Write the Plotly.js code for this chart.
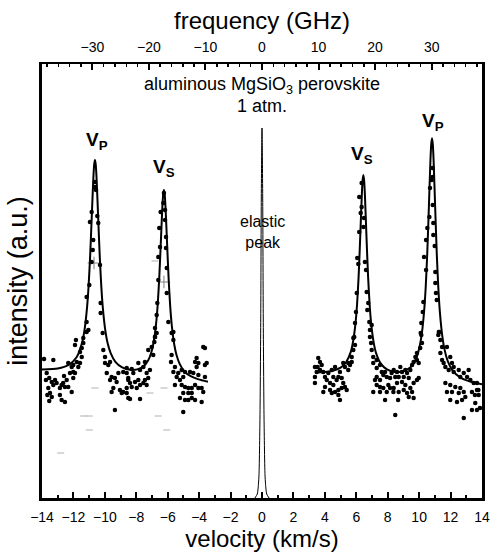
<!DOCTYPE html>
<html>
<head>
<meta charset="utf-8">
<script src="https://cdn.plot.ly/plotly-3.0.1.min.js"></script>
<style>html,body{margin:0;padding:0;background:#fff;}#chart{width:491px;height:552px;}</style>
</head>
<body>
<div id="chart"></div>
<script>
// ---- measured points [velocity km/s, intensity a.u.] ----
const dotsLeftOuter = [[-13.87,139],[-13.28,138],[-13.70,125],[-13.54,120],[-13.75,118],[-13.38,116],[-13.17,118],[-13.07,115],[-13.28,113],[-13.60,110],[-13.49,105],[-13.66,103],[-13.38,101],[-13.54,97],[-12.86,110],[-12.75,113],[-12.65,115],[-12.54,111],[-12.86,103],[-12.75,98],[-12.54,96],[-12.11,106],[-12.33,111],[-12.43,118],[-12.60,122],[-12.22,125],[-12.01,126],[-12.11,131],[-12.33,135],[-12.01,133],[-11.79,136],[-11.69,131],[-11.58,135],[-11.90,125],[-12.01,120],[-11.47,141],[-11.58,146],[-11.90,153],[-11.84,158],[-11.37,155],[-11.47,150],[-11.16,166]];
const dotsLeftVp = [[-10.63,316],[-10.56,308],[-10.84,286],[-10.48,282],[-10.95,276],[-10.42,275],[-10.74,258],[-10.77,248],[-10.84,236],[-10.31,233],[-10.99,213],[-11.16,201],[-10.27,195],[-10.27,185],[-11.16,176],[-11.05,168],[-10.14,165],[-11.37,160],[-10.63,311]];
const dotsLeftMiddle = [[-9.99,135],[-9.78,133],[-9.67,136],[-9.88,125],[-9.57,121],[-9.36,120],[-9.67,118],[-9.25,116],[-9.46,110],[-9.57,106],[-9.04,108],[-8.83,106],[-8.93,105],[-8.61,105],[-8.51,100],[-9.36,88],[-9.14,125],[-8.83,126],[-8.61,125],[-8.51,120],[-9.99,141],[-10.10,148],[-8.61,130],[-8.29,129],[-8.19,125],[-7.87,135],[-7.76,128],[-7.55,131],[-7.45,136],[-7.24,148],[-7.34,125],[-7.24,120],[-7.13,128],[-8.51,118],[-8.40,115],[-8.29,111],[-8.08,116],[-7.87,118],[-7.76,113],[-7.55,115],[-7.45,118],[-7.34,113],[-7.97,110],[-8.61,110],[-8.40,99],[-7.76,99],[-7.02,151],[-6.92,143],[-6.85,156],[-6.70,165],[-6.81,161]];
const dotsLeftVs = [[-6.24,305],[-6.28,295],[-6.17,288],[-6.45,286],[-6.17,278],[-6.54,270],[-6.11,261],[-6.49,251],[-6.11,250],[-6.60,241],[-6.06,230],[-6.60,218],[-6.06,205],[-6.66,195],[-6.70,183],[-5.96,176],[-6.81,170],[-5.64,166],[-6.81,161]];
const dotsLeftInner = [[-5.75,165],[-5.64,158],[-5.75,143],[-5.79,136],[-5.54,131],[-5.64,126],[-5.33,125],[-5.11,128],[-4.90,126],[-5.01,121],[-5.43,121],[-5.22,118],[-5.54,113],[-5.11,113],[-4.90,111],[-4.69,110],[-4.47,110],[-4.26,113],[-4.05,110],[-3.84,110],[-3.74,106],[-5.01,105],[-4.69,105],[-4.47,105],[-5.22,100],[-4.90,98],[-4.69,98],[-4.47,100],[-4.26,98],[-3.84,96],[-4.16,140],[-4.26,136],[-4.05,135],[-4.16,131],[-3.63,133],[-3.52,135],[-3.63,150],[-3.74,151],[-4.37,125],[-4.05,123],[-3.63,121],[-4.58,126],[-5.01,86]];
const dotsRightInner = [[3.58,140],[3.69,136],[3.37,131],[3.54,131],[3.80,133],[3.69,128],[3.48,126],[3.37,121],[3.37,115],[3.90,126],[4.01,121],[4.12,118],[4.22,125],[4.44,128],[4.65,131],[4.54,121],[4.33,115],[4.54,113],[4.75,118],[4.86,121],[4.96,126],[5.07,120],[5.17,115],[5.28,111],[5.07,110],[4.86,108],[4.65,106],[4.44,105],[4.33,108],[4.01,111],[3.90,106],[4.86,103],[4.96,98],[5.39,108],[5.28,131],[5.17,135],[5.49,135],[5.60,133],[5.71,136],[5.49,128],[5.71,141],[5.81,148],[5.92,153],[5.87,161]];
const dotsRightVs = [[6.34,315],[6.19,301],[6.34,291],[6.28,285],[6.49,280],[6.45,271],[6.19,266],[6.06,240],[6.55,236],[6.13,234],[6.62,228],[6.03,205],[6.66,206],[6.76,195],[6.70,188],[5.98,186],[6.83,176],[5.92,175],[6.87,168],[5.81,160],[6.98,173]];
const dotsRightMiddle = [[6.87,161],[6.94,155],[6.98,148],[7.08,141],[7.08,135],[7.30,138],[7.51,133],[7.30,130],[7.62,126],[7.83,126],[7.72,123],[7.30,121],[7.19,118],[7.51,118],[7.94,121],[8.15,120],[8.25,125],[7.30,113],[7.51,111],[7.72,110],[8.04,113],[8.15,110],[7.08,106],[7.51,106],[7.94,106],[7.83,98],[8.36,106],[8.38,128],[8.59,126],[8.80,131],[8.91,126],[9.12,128],[9.23,125],[9.44,128],[9.55,133],[9.65,136],[9.76,141],[9.86,138],[9.97,135],[9.86,145],[10.07,150],[10.18,155],[10.14,163],[8.48,121],[8.70,121],[9.02,121],[9.34,120],[8.59,115],[8.91,116],[9.12,113],[9.65,115],[9.86,118],[9.97,120],[8.38,110],[8.70,106],[9.02,108],[9.23,105],[9.44,110],[9.55,106],[9.34,101],[9.65,100],[8.66,98],[8.48,83]];
const dotsRightVp = [[10.86,321],[10.80,318],[10.69,310],[10.86,293],[10.65,281],[10.90,275],[10.52,270],[10.90,263],[10.44,258],[10.99,252],[10.31,241],[10.44,228],[11.03,226],[11.03,215],[11.07,205],[11.12,198],[10.27,196],[10.23,186],[10.14,175],[11.28,166],[10.10,165],[11.22,163],[10.86,330]];
const dotsRightOuter = [[11.25,166],[11.35,158],[11.46,151],[11.35,145],[11.46,138],[11.56,135],[11.77,151],[11.67,131],[11.98,141],[12.09,135],[12.20,131],[11.88,128],[12.20,126],[12.52,128],[12.84,125],[13.15,128],[12.62,121],[13.05,121],[13.26,118],[13.47,115],[13.68,115],[11.67,115],[11.98,113],[12.30,111],[12.62,110],[12.09,106],[12.52,105],[12.84,106],[12.94,101],[13.36,106],[13.68,108],[13.79,103],[12.41,96],[12.73,98],[13.57,95],[13.36,88],[13.68,88],[11.98,98],[12.84,80],[11.77,106],[13.77,108],[13.55,103],[13.87,90]];

// faint grey marks
const crossV = [-10.69, -6.24];
const crossI = [235, 216];
const dashV = [-6.81, -10.63, -7.13, -6.24, -11.37, -10.99, -10.99, -6.60, -6.06, -12.81];
const dashI = [237, 110, 105, 110, 82, 82, 68, 82, 68, 45];

// fitted curves
const fitLeftV = [-14,-13,-12.3,-11.8,-11.43,-11.28,-11.13,-11.03,-10.93,-10.83,-10.73,-10.68,-10.63,-10.58,-10.53,-10.43,-10.33,-10.23,-10.13,-9.98,-9.83,-9.63,-9.33,-8.9,-8.4,-7.94,-7.54,-7.24,-7.04,-6.89,-6.74,-6.64,-6.54,-6.44,-6.34,-6.29,-6.24,-6.19,-6.14,-6.04,-5.94,-5.84,-5.74,-5.59,-5.44,-5.24,-4.94,-4.54,-4.04,-3.44];
const fitLeftI = [128.5,129.5,133.1,140.7,156.5,169.6,191.2,213.2,243.9,282.7,320.7,333.3,337.9,333.3,320.5,282.3,243.4,212.6,190.4,168.6,155.2,144.9,136.2,130.6,128.3,128.6,131.6,137.7,145.7,156.4,174.3,192.9,219.7,255.0,291.3,303.6,308.0,303.3,291.0,254.3,218.6,191.4,172.5,154.0,142.9,134.1,126.7,121.8,118.6,116.3];
const fitRightV = [3.4,4.0,4.5,5.0,5.35,5.65,5.8,5.95,6.05,6.15,6.25,6.35,6.40,6.45,6.50,6.55,6.65,6.75,6.85,6.95,7.1,7.25,7.55,7.95,8.45,9.0,9.5,9.82,10.02,10.17,10.32,10.42,10.52,10.62,10.72,10.77,10.82,10.87,10.92,11.02,11.12,11.22,11.32,11.47,11.62,11.82,12.12,12.6,13.2,14.0];
const fitRightI = [125.5,125.9,127.2,130.3,135.7,146.1,156.8,174.6,193.7,221.9,260.6,302.5,317.3,322.9,317.3,302.6,260.6,221.7,193.3,174.1,156.2,145.4,134.6,128.6,126.1,126.7,131.4,140.0,150.7,164.3,187.5,211.5,246.0,291.5,338.2,353.9,359.7,353.7,337.8,290.7,245.0,210.3,185.9,162.3,148.1,136.9,127.7,120.7,116.6,113.7];

// elastic (Rayleigh) peak
const elasticV = [-0.45,-0.3,-0.2,-0.13,-0.08,-0.05,-0.02,0,0.02,0.05,0.08,0.13,0.2,0.3,0.45];
const elasticI = [0,4,20,80,180,285,350,370,350,285,180,80,20,4,0];

// axis ranges
const velocityRange = [-14, 14];
const frequencyRange = [-38.9, 38.9];
const intensityRange = [0, 434];

// ---- build ----
const allDots = [].concat(dotsLeftOuter, dotsLeftVp, dotsLeftMiddle, dotsLeftVs, dotsLeftInner,
  dotsRightInner, dotsRightVs, dotsRightMiddle, dotsRightVp, dotsRightOuter);

const traces = [
  // empty trace that only makes the top frequency axis render
  {x: [], y: [], type:'scatter', mode:'markers', xaxis:'x2', yaxis:'y', hoverinfo:'skip', showlegend:false},
  {x: dashV, y: dashI, type:'scatter', mode:'markers', hoverinfo:'skip',
   marker:{symbol:'line-ew', size:5, line:{color:'#b0b0b0', width:1}}},
  {x: crossV, y: crossI, type:'scatter', mode:'markers', hoverinfo:'skip',
   marker:{symbol:'cross-thin', size:9, line:{color:'#808080', width:1}}},
  {x: fitLeftV, y: fitLeftI, type:'scatter', mode:'lines',
   line:{color:'black', width:2, shape:'spline', smoothing:0.6}},
  {x: fitRightV, y: fitRightI, type:'scatter', mode:'lines',
   line:{color:'black', width:2, shape:'spline', smoothing:0.6}},
  {x: elasticV, y: elasticI, type:'scatter', mode:'lines',
   line:{color:'black', width:1, shape:'spline', smoothing:0.6}},
  {x: allDots.map(p => p[0]), y: allDots.map(p => p[1]), type:'scatter', mode:'markers',
   marker:{color:'black', size:4.5}}
];

const tickFont = {family:'"Liberation Sans Narrow", "Arial Narrow", "Liberation Sans", Arial, sans-serif', size:14, color:'black'};
const titleFont = {family:'"Liberation Sans", Arial, sans-serif', size:24, color:'black'};

const layout = {
  width:491, height:552,
  margin:{l:42, r:9, t:64, b:54},
  paper_bgcolor:'white', plot_bgcolor:'white',
  showlegend:false,
  font:{family:'"Liberation Sans", Arial, sans-serif', color:'black'},
  xaxis:{
    range: velocityRange, autorange:false, tick0:0, dtick:2,
    ticks:'inside', ticklen:6, tickwidth:2, tickcolor:'black',
    minor:{dtick:1, ticks:'inside', ticklen:3, tickwidth:2, tickcolor:'black'},
    showline:true, linewidth:3, linecolor:'black',
    showgrid:false, zeroline:false,
    tickfont: tickFont, ticklabelstandoff:4,
    title:{text:'velocity (km/s)', font:titleFont, standoff:1}
  },
  xaxis2:{
    overlaying:'x', side:'top', anchor:'y',
    range: frequencyRange, autorange:false, tick0:0, dtick:10,
    ticks:'inside', ticklen:6, tickwidth:2, tickcolor:'black',
    minor:{dtick:2, ticks:'inside', ticklen:3, tickwidth:1.5, tickcolor:'black'},
    showline:true, linewidth:2, linecolor:'black',
    showgrid:false, zeroline:false,
    tickfont: tickFont, ticklabelstandoff:4,
    title:{text:'frequency (GHz)', font:titleFont, standoff:3}
  },
  yaxis:{
    range: intensityRange, autorange:false, showticklabels:false, ticks:'',
    showline:true, linewidth:3, linecolor:'black', mirror:true,
    showgrid:false, zeroline:false,
    title:{text:'intensity (a.u.)', font:{family:'"Liberation Sans", Arial, sans-serif', size:27, color:'black'}, standoff:4}
  },
  annotations:[
    {x:0, y:413, xref:'x', yref:'y', text:'aluminous MgSiO<sub>3</sub> perovskite', showarrow:false,
     font:{size:18, color:'black'}, xanchor:'center', yanchor:'middle'},
    {x:0, y:392, xref:'x', yref:'y', text:'1 atm.', showarrow:false,
     font:{size:18, color:'black'}, xanchor:'center', yanchor:'middle'},
    {x:0, y:266, xref:'x', yref:'y', text:'elastic<br>peak', showarrow:false,
     font:{size:16, color:'black'}, xanchor:'center', yanchor:'middle'},
    {x:-10.5, y:357, xref:'x', yref:'y', text:'<b>V<sub>P</sub></b>', showarrow:false,
     font:{size:19, color:'black'}, xanchor:'center', yanchor:'middle'},
    {x:-6.24, y:330, xref:'x', yref:'y', text:'<b>V<sub>S</sub></b>', showarrow:false,
     font:{size:19, color:'black'}, xanchor:'center', yanchor:'middle'},
    {x:6.36, y:343, xref:'x', yref:'y', text:'<b>V<sub>S</sub></b>', showarrow:false,
     font:{size:19, color:'black'}, xanchor:'center', yanchor:'middle'},
    {x:10.88, y:376, xref:'x', yref:'y', text:'<b>V<sub>P</sub></b>', showarrow:false,
     font:{size:19, color:'black'}, xanchor:'center', yanchor:'middle'}
  ]
};

Plotly.newPlot('chart', traces, layout, {displayModeBar:false, staticPlot:true});
</script>
</body>
</html>
